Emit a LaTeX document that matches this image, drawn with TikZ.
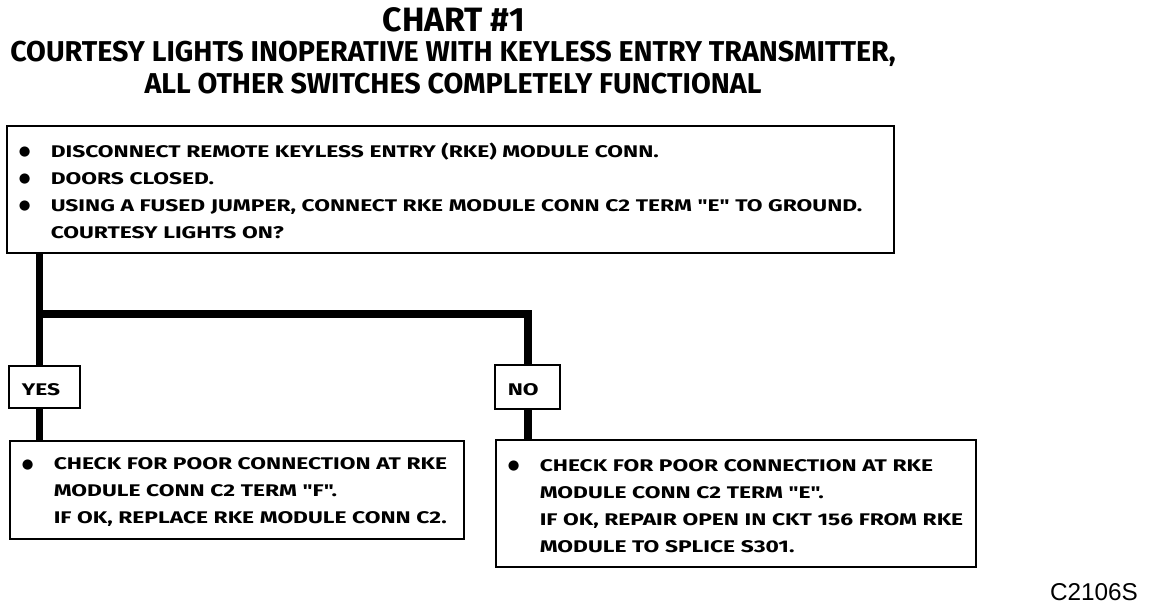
\documentclass[tikz,border=0pt]{standalone}
\usepackage{fontspec}
\setmainfont{Fira Sans}
\newfontfamily\boxface[FakeStretch=1.35]{Fira Sans}
\newfontfamily\symface{DejaVu Sans}
\newfontfamily\codeface{Liberation Sans}
\usetikzlibrary{positioning}
\newdimen\pxu \pxu=0.025cm
\newcommand\bul{\makebox[32\pxu][l]{\raisebox{1pt}{\symface\fontsize{9.5}{9.5}\selectfont ●}}}
\newcommand\ind{\hspace*{32\pxu}}

\begin{document}
\begin{tikzpicture}[x=\pxu, y=-\pxu,
    block/.style={rectangle, draw, line width=1.1pt, anchor=north west, align=left, inner xsep=12\pxu, inner ysep=0pt,
      font=\boxface\bfseries\fontsize{12}{19.2}\selectfont, execute at begin node={\rule{0pt}{17\pxu}}},
    answer/.style={block, inner xsep=13\pxu},
    link/.style={line width=5pt}]
    \useasboundingbox (0,0) rectangle (1152,608);

    \node [font=\bfseries\fontsize{24}{28}\selectfont, anchor=base] (chart) at (454,31) {CHART \#1};
    \node [font=\bfseries\fontsize{20.4}{22.8}\selectfont, align=center, anchor=north, inner sep=0pt] (subject) at (453,41)
      {COURTESY LIGHTS INOPERATIVE WITH KEYLESS ENTRY TRANSMITTER,\\ ALL OTHER SWITCHES COMPLETELY FUNCTIONAL};

    \node [block, minimum width=887\pxu, minimum height=127\pxu, text width=863\pxu] (test) at (6,125)
      {\bul DISCONNECT REMOTE KEYLESS ENTRY (RKE) MODULE CONN.\\
       \bul DOORS CLOSED.\\
       \bul USING A FUSED JUMPER, CONNECT RKE MODULE CONN C2 TERM "E" TO GROUND.\\
       \ind COURTESY LIGHTS ON?};

    \node [answer, minimum width=71\pxu, minimum height=42\pxu, text width=45\pxu] (yes) at (8,365) {YES};
    \node [answer, minimum width=65\pxu, minimum height=44\pxu, text width=39\pxu] (no) at (494,364) {NO};

    \node [block, minimum width=454\pxu, minimum height=98\pxu, text width=430\pxu] (yesfix) at (9,440)
      {\bul CHECK FOR POOR CONNECTION AT RKE\\
       \ind MODULE CONN C2 TERM "F".\\
       \ind IF OK, REPLACE RKE MODULE CONN C2.};
    \node [block, minimum width=480\pxu, minimum height=127\pxu, text width=456\pxu] (nofix) at (495,439)
      {\bul CHECK FOR POOR CONNECTION AT RKE\\
       \ind MODULE CONN C2 TERM "E".\\
       \ind IF OK, REPAIR OPEN IN CKT 156 FROM RKE\\
       \ind MODULE TO SPLICE S301.};

    \node [font=\codeface\fontsize{17.3}{20}\selectfont, anchor=base, inner sep=0pt] (code) at (1094,600) {C2106S};

    \coordinate (split) at (39.5,314);
    \coordinate (nodrop) at (528,314);
    \draw [link] (test.south -| split) -- (yes.north -| split);
    \draw [link] (yes.south -| split) -- (yesfix.north -| split);
    \draw [link] (split) -- (nodrop) -- (no.north -| nodrop);
    \draw [link] (no.south -| nodrop) -- (nofix.north -| nodrop);
\end{tikzpicture}
\end{document}
